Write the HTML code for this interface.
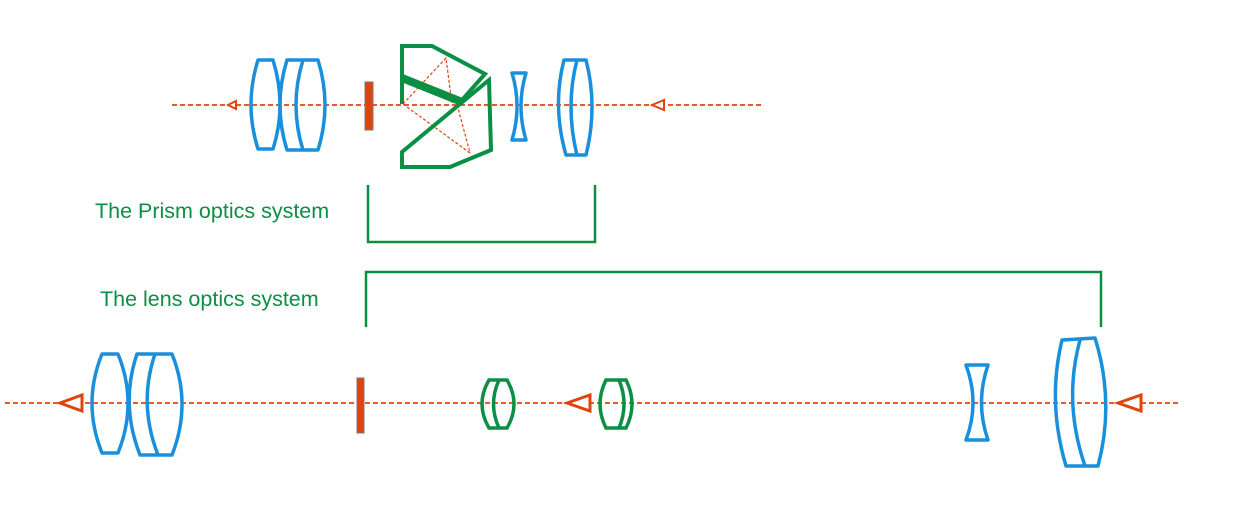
<!DOCTYPE html>
<html><head><meta charset="utf-8"><style>
html,body{margin:0;padding:0;background:#fff;width:1236px;height:521px;overflow:hidden}
svg{display:block}
text{font-family:"Liberation Sans",sans-serif;font-size:21.5px;fill:#0a8f45}
</style></head><body>
<svg width="1236" height="521" viewBox="0 0 1236 521">
<g stroke="#e0440e" stroke-width="1.8" stroke-dasharray="5,3" fill="none">
<line x1="172" y1="105" x2="762" y2="105"/>
<line x1="5" y1="403" x2="1180" y2="403"/>
<g stroke-width="1.2" stroke-dasharray="3,2">
<polyline points="403,104 446,58 452,104"/>
<polyline points="403,104 470,153 458,108"/>
</g>
</g>
<g stroke="#e0440e" stroke-width="2" fill="#fff">
<polygon points="228,105 236,101 236,109"/>
<polygon points="652,105 664,100 664,110"/>
<polygon points="60,403 82,395 82,411" stroke-width="3"/>
<polygon points="567,403 590,395 590,411" stroke-width="3"/>
<polygon points="1118,403 1141,395 1141,411" stroke-width="3"/>
</g>
<rect x="365" y="82" width="8" height="48" fill="#e0440e" stroke="#777" stroke-width="1"/>
<rect x="357" y="378" width="7" height="55" fill="#e0440e" stroke="#777" stroke-width="1"/>
<g stroke="#1a8fdc" stroke-width="3.5" fill="none" stroke-linejoin="round">
<path d="M258,60 L273,60 Q287,105 273,149 L258,149 Q244,105 258,60Z"/>
<path d="M287,60 L318,60 Q332,105 318,150 L287,150 Q273,105 287,60Z"/>
<path d="M303,60 Q289,105 303,150"/>
<path d="M512,73 L526,73 Q516,106 526,140 L512,140 Q522,106 512,73Z"/>
<path d="M564,60 L586,60 Q598,106 586,155 L566,155 Q552,106 564,60Z"/>
<path d="M577,60 Q565,106 577,155"/>
<path d="M102,354 L118,354 Q138,403 118,453 L102,453 Q82,403 102,354Z"/>
<path d="M137,354 L172,354 Q192,404 172,455 L140,455 Q120,404 137,354Z"/>
<path d="M155,354 Q138,404 158,455"/>
<path d="M966,365 L988,365 Q975,403 988,440 L966,440 Q980,403 966,365Z"/>
<path d="M1062,340 L1095,338 Q1115,402 1098,466 L1066,466 Q1047,402 1062,340Z"/>
<path d="M1080,340 Q1063,402 1085,466"/>
</g>
<g stroke="#0a8f45" stroke-width="4" fill="none" stroke-linejoin="miter">
<polyline points="402,104 402,46 432,46 485,74 462,100"/>
<line x1="402" y1="78" x2="462" y2="102" stroke-width="8"/>
<polygon points="402,152 489,80 491,150 450,167 402,167"/>
<path d="M489,380 L507,380 Q521,404 507,428 L489,428 Q475,404 489,380Z" stroke-width="3.5"/>
<path d="M499,380 Q488,404 499,428" stroke-width="3.5"/>
<path d="M606,380 L626,380 Q638,404 626,428 L606,428 Q594,404 606,380Z" stroke-width="3.5"/>
<path d="M619,380 Q629,404 619,428" stroke-width="3.5"/>
<polyline points="368,185 368,242 595,242 595,185" stroke-width="2.5"/>
<polyline points="366,327 366,272 1101,272 1101,327" stroke-width="2.5"/>
</g>
<text x="95" y="218">The Prism optics system</text>
<text x="100" y="306">The lens optics system</text>
</svg>
</body></html>
